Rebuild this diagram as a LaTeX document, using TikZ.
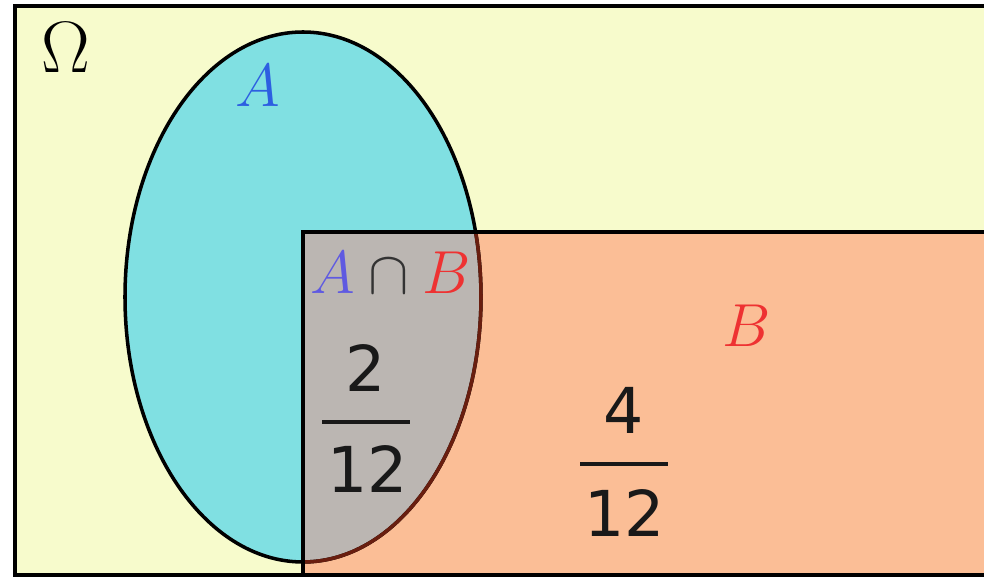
\documentclass[tikz,border=0pt]{standalone}
\usepackage{amsmath}
\usepackage{fontspec}
\newfontfamily\digitfont{DejaVu Sans}
\definecolor{omegacol}{RGB}{247,251,204}
\definecolor{acol}{RGB}{128,224,226}
\definecolor{bcol}{RGB}{251,190,150}
\definecolor{abcol}{RGB}{187,182,178}
\definecolor{alabcol}{RGB}{45,95,225}
\definecolor{blabcol}{RGB}{238,50,50}
\definecolor{ablabcol}{RGB}{95,90,225}
\definecolor{edgecol}{RGB}{105,30,15}
\tikzset{
  setline/.style={draw=black,line width=1pt},
  setlab/.style={font=\fontsize{19}{23}\selectfont,inner sep=0pt},
  numlab/.style={font=\digitfont\fontsize{18}{22}\selectfont,inner sep=0pt,text=black!90},
  fracbar/.style={draw=black!90,line width=0.9pt},
}
\begin{document}
\begin{tikzpicture}[x=0.01cm,y=0.01cm]
  \clip (0,0) rectangle (984,579);
  \fill[omegacol] (15,4) rectangle (1100,573);
  \fill[acol] (303,282) ellipse (178 and 265);
  \fill[bcol] (303,4) rectangle (1100,347);
  \begin{scope}
    \clip (303,4) rectangle (1100,347);
    \fill[abcol] (303,282) ellipse (178 and 265);
  \end{scope}
  \draw[setline] (303,282) ellipse (178 and 265);
  \begin{scope}
    \clip (303,4) rectangle (1100,347);
    \draw[edgecol,line width=1pt] (303,282) ellipse (178 and 265);
  \end{scope}
  \draw[setline] (303,4) rectangle (1100,347);
  \draw[setline] (15,4) rectangle (1100,573);
  \node[font=\fontsize{20}{24}\selectfont,inner sep=0pt] (omega) at (66,531) {$\Omega$};
  \node[setlab,text=alabcol] (labA) at (258,493) {$A$};
  \node[setlab,text=blabcol] (labB) at (747,253) {$B$};
  \node[font=\fontsize{16.5}{20}\selectfont,inner sep=0pt,text=black!80] (labAB) at (391,306)
    {${\color{ablabcol}A}\cap{\color{blabcol}B}$};
  \node[numlab] (numAB) at (366,211) {2};
  \node[numlab] (denAB) at (368,110) {12};
  \draw[fracbar] (322,157) -- (410,157);
  \node[numlab] (numB) at (624,169) {4};
  \node[numlab] (denB) at (625,66) {12};
  \draw[fracbar] (580,115) -- (668,115);
\end{tikzpicture}
\end{document}
